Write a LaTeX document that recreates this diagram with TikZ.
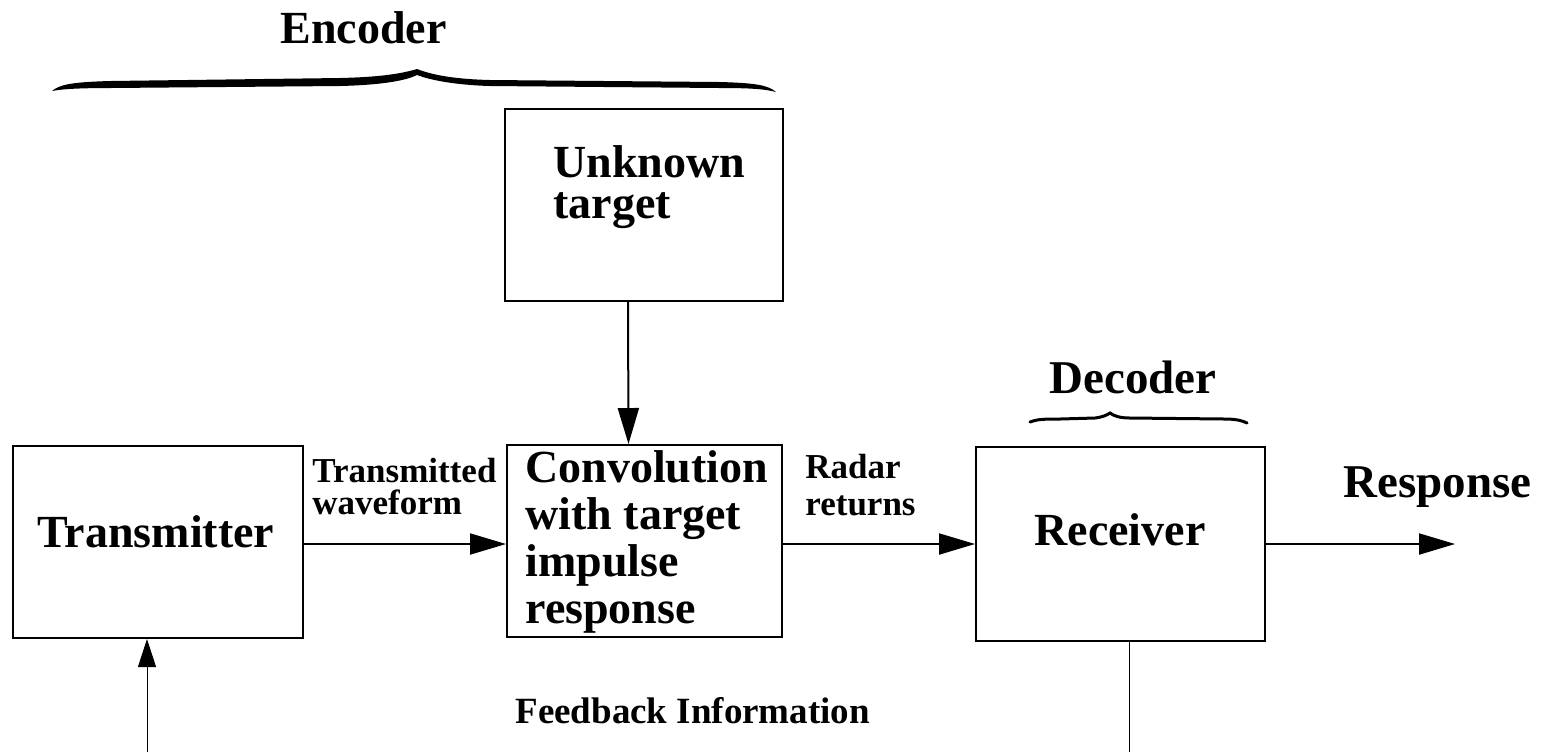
\documentclass[tikz,border=0pt]{standalone}
\usepackage{fontspec}
\setmainfont{Liberation Serif}
\usetikzlibrary{arrows.meta,calc}
\tikzset{
  block/.style={draw, line width=1pt, inner sep=0pt, rectangle},
  big/.style={inner sep=0pt, font=\bfseries\fontsize{23}{23}\selectfont},
  small/.style={inner sep=0pt, font=\bfseries\fontsize{17.5}{17.5}\selectfont},
  flow/.style={line width=1pt, -{Triangle[length=18pt,width=10.5pt]}},
  fb/.style={line width=0.5pt},
}
\begin{document}
\begin{tikzpicture}[x=0.5pt,y=-0.5pt]
\useasboundingbox (0,0) rectangle (1551,752);

% blocks
\node[block, minimum width=145pt,   minimum height=96pt] (tx)   at (158,542)    {};
\node[block, minimum width=137.5pt, minimum height=96pt] (conv) at (644.5,541)  {};
\node[block, minimum width=139pt,   minimum height=96pt] (unk)  at (644,205)    {};
\node[block, minimum width=144.5pt, minimum height=97pt] (rx)   at (1120.5,544) {};

% block texts
\node[big, anchor=base] (txtx) at (156,547) {Transmitter};
\node[big, anchor=base] (txrx) at (1120,545) {Receiver};
\node[big, anchor=base west] (unk1) at (553,177) {Unknown};
\node[big, anchor=base west] (unk2) at (553,218) {target};
\node[big, anchor=base west] (cv1) at (525,482) {Convolution};
\node[big, anchor=base west] (cv2) at (525,529) {with target};
\node[big, anchor=base west] (cv3) at (525,576) {impulse};
\node[big, anchor=base west] (cv4) at (525,623) {response};

% signal flow
\draw[flow] (tx.east |- rx.west) -- (conv.west |- rx.west);
\draw[flow] (conv.east |- rx.west) -- (rx.west);
\coordinate (out) at (1455,544);
\draw[flow] (rx.east) -- (out);
\draw[flow] ([xshift=-8pt]unk.south) -- ([xshift=-8pt]conv.north);

% arrow labels
\node[small, anchor=base west] (tw1) at (312,482) {Transmitted};
\node[small, anchor=base west] (tw2) at (312,514) {waveform};
\node[small, anchor=base west] (rr1) at (805,478) {Radar};
\node[small, anchor=base west] (rr2) at (805,515) {returns};
\node[inner sep=0pt, font=\bfseries\fontsize{23.5}{23.5}\selectfont, anchor=base west] (resp) at (1343,497) {Response};

% feedback path
\coordinate (fbL) at (147,752);
\coordinate (fbR) at (1129,752);
\draw[fb] (rx.south -| fbR) -- (fbR);
\draw[fb, -{Triangle[length=14pt,width=9pt]}] (fbL) -- (fbL |- tx.south);
\node[inner sep=0pt, font=\bfseries\fontsize{18.5}{18.5}\selectfont, anchor=base west] (fbt) at (515,723) {Feedback Information};

% encoder brace
\fill (52,91) .. controls (60,84) and (75,82) .. (110,81) -- (340,78)
  .. controls (380,77) and (400,74) .. (417,69)
  .. controls (430,74) and (450,79) .. (490,80) -- (720,82)
  .. controls (755,83) and (768,85) .. (776,92)
  .. controls (765,89) and (750,88) .. (720,88) -- (490,86)
  .. controls (455,85) and (430,80) .. (417,75)
  .. controls (405,81) and (380,85) .. (340,86) -- (110,88)
  .. controls (80,88) and (62,89) .. (52,91) -- cycle;
\node[inner sep=0pt, font=\bfseries\fontsize{23}{23}\selectfont, anchor=base] (enc) at (363.5,43) {Encoder};

% decoder brace
\draw[line width=1.5pt, line cap=round]
  (1030,422) .. controls (1038,419) and (1045,419) .. (1060,419) -- (1095,418)
  .. controls (1103,417) and (1107,415) .. (1110,413)
  .. controls (1114,416) and (1120,418) .. (1130,418) -- (1225,419)
  .. controls (1237,419) and (1243,421) .. (1247,423);
\node[inner sep=0pt, font=\bfseries\fontsize{23.5}{23.5}\selectfont, anchor=base] (dec) at (1133,393) {Decoder};
\end{tikzpicture}
\end{document}
